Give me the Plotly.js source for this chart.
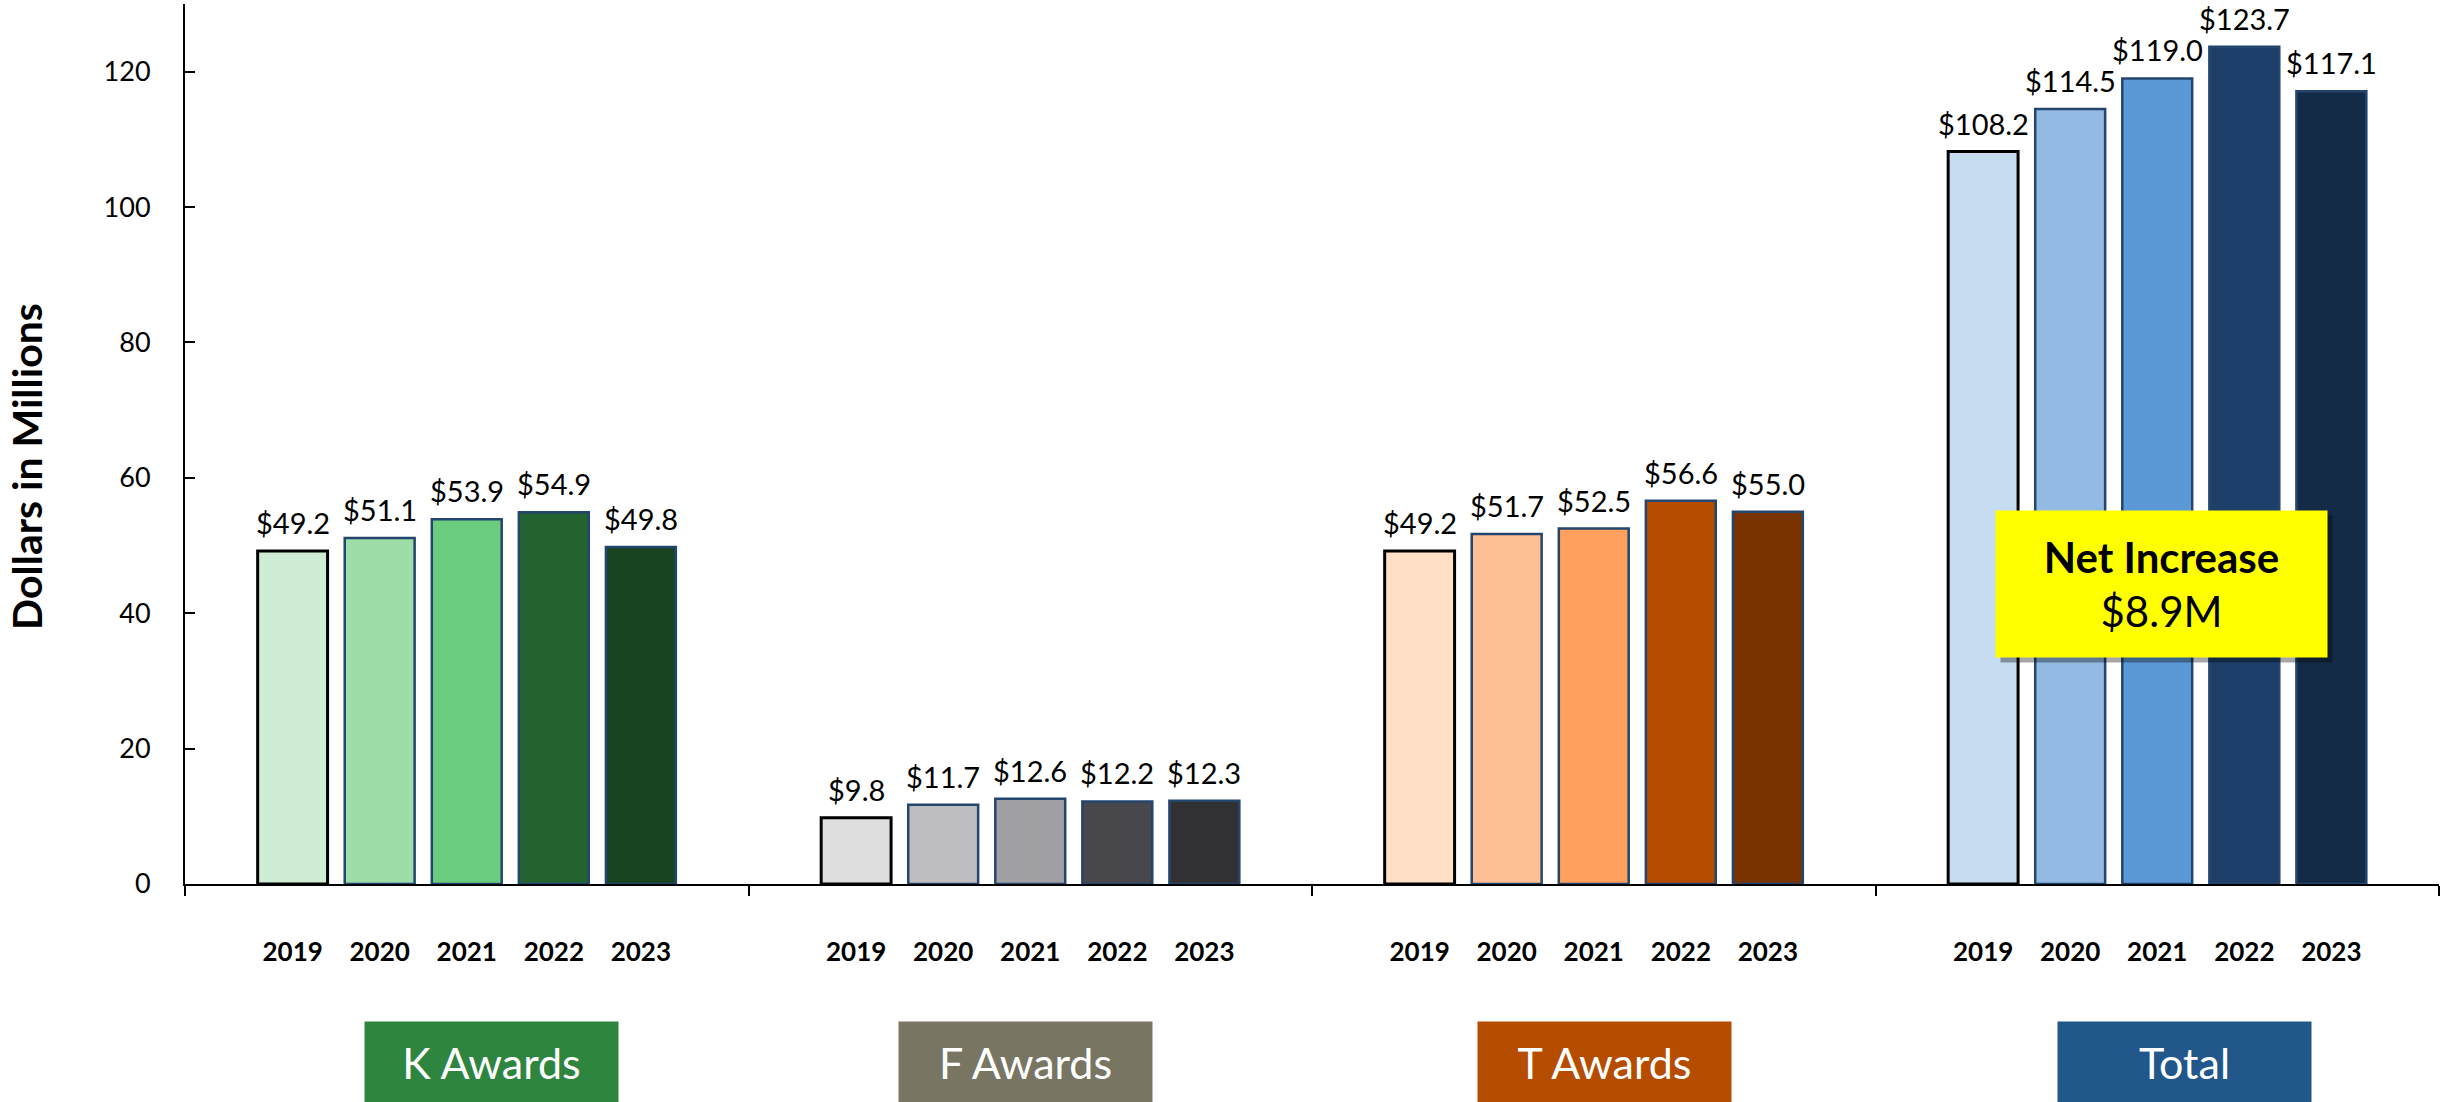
<!DOCTYPE html>
<html>
<head>
<meta charset="utf-8">
<script src="https://cdn.plot.ly/plotly-3.0.1.min.js"></script>
<style>
  html, body { margin: 0; padding: 0; background: #ffffff; }
  #chart { width: 2440px; height: 1102px; }
</style>
</head>
<body>
<div id="chart"></div>
<script>
// ---- data ----
const groups = ['K Awards', 'F Awards', 'T Awards', 'Total'];
const years = ['2019', '2020', '2021', '2022', '2023'];
const kAwards = [49.2, 51.1, 53.9, 54.9, 49.8];
const fAwards = [9.8, 11.7, 12.6, 12.2, 12.3];
const tAwards = [49.2, 51.7, 52.5, 56.6, 55.0];
const totalAwards = [108.2, 114.5, 119.0, 123.7, 117.1];
const yTickVals = [0, 20, 40, 60, 80, 100, 120];
const netIncreaseLabel = 'Net Increase';
const netIncreaseValue = '$8.9M';
const yTitle = 'Dollars in Millions';

// ---- styles ----
const palette = {
  'K Awards': ['#CFECD4', '#9EDDA8', '#6BCB7E', '#236330', '#184422'],
  'F Awards': ['#DEDEDF', '#BEBEC0', '#A09FA4', '#48474C', '#313133'],
  'T Awards': ['#FFE0C7', '#FFBF94', '#FFA05E', '#B54C00', '#783300'],
  'Total':    ['#C6DCF0', '#92BAE3', '#5B98D6', '#1D3F69', '#142B47']
};
const groupBoxColors = ['#2E8540', '#787663', '#B54C00', '#21578A'];
const groupBoxShift = [25, -5, 11, 27];
const FONT = 'Lato, "Open Sans", sans-serif';

const bargap = 0.2275;
const bargroupgap = 0.197;
const slot = (1 - bargap) / years.length;

const series = [kAwards, fAwards, tAwards, totalAwards];

const traces = years.map((yr, i) => {
  const yv = series.map(s => s[i]);
  return {
    type: 'bar',
    name: yr,
    x: groups,
    y: yv,
    marker: {
      color: groups.map(g => palette[g][i]),
      line: { color: i === 0 ? '#000000' : '#24456E', width: i === 0 ? 3 : 2.5 }
    },
    hoverinfo: 'skip',
    showlegend: false
  };
});

// bar centre positions on an overlaid linear axis (same range as the category axis)
const barPos = [];
const yearTickText = [];
groups.forEach((g, gi) => {
  years.forEach((yr, i) => {
    barPos.push(gi + (i - (years.length - 1) / 2) * slot);
    yearTickText.push('<b>' + yr + '</b>');
  });
});
// invisible trace to activate xaxis2
traces.push({
  type: 'scatter', x: [-0.5, 3.5], y: [0, 0], xaxis: 'x2', yaxis: 'y',
  mode: 'markers', marker: { opacity: 0 }, hoverinfo: 'skip', showlegend: false
});

const annotations = [];

// value labels above bars
groups.forEach((g, gi) => {
  years.forEach((yr, i) => {
    const v = series[gi][i];
    annotations.push({
      x: barPos[gi * years.length + i], xref: 'x2', y: v, yref: 'y',
      yshift: 10, yanchor: 'bottom', xanchor: 'center', borderpad: 0,
      text: '$' + v.toFixed(1), showarrow: false,
      font: { family: FONT, size: 29, color: '#000000' }
    });
  });
});

// category boxes
groups.forEach((g, gi) => {
  annotations.push({
    x: g, xref: 'x', y: -0.2028, yref: 'paper',
    xshift: groupBoxShift[gi],
    text: g, showarrow: false,
    font: { family: FONT, size: 43, color: '#ffffff' },
    bgcolor: groupBoxColors[gi],
    width: 251, height: 79,
    xanchor: 'center', yanchor: 'middle'
  });
});

// y axis title
annotations.push({
  x: 0, xref: 'paper', xshift: -158, y: 0.474, yref: 'paper',
  text: '<b>' + yTitle + '</b>', textangle: -90, showarrow: false,
  font: { family: FONT, size: 41, color: '#000000' },
  xanchor: 'center', yanchor: 'middle'
});

// Net increase call-out (shadow + box)
annotations.push({
  x: 'Total', xref: 'x', xshift: 9, y: 44.3, yref: 'y', yshift: -5,
  text: ' ', showarrow: false,
  bgcolor: 'rgba(0,0,0,0.35)', width: 329, height: 144,
  xanchor: 'center', yanchor: 'middle'
});
annotations.push({
  x: 'Total', xref: 'x', xshift: 4.5, y: 44.3, yref: 'y',
  text: '<b>' + netIncreaseLabel + '</b><br>' + netIncreaseValue,
  showarrow: false,
  font: { family: FONT, size: 42, color: '#000000' },
  bgcolor: '#FFFF00', width: 329, height: 144,
  xanchor: 'center', yanchor: 'middle'
});

const layout = {
  width: 2440, height: 1102,
  margin: { l: 185, r: 1, t: 4, b: 218 },
  paper_bgcolor: '#ffffff', plot_bgcolor: '#ffffff',
  barmode: 'group', bargap: bargap, bargroupgap: bargroupgap,
  font: { family: FONT, color: '#000000' },
  xaxis: {
    type: 'category', range: [-0.5, 3.5], fixedrange: true,
    showticklabels: false, tickson: 'boundaries',
    ticks: 'outside', ticklen: 10, tickwidth: 2, tickcolor: '#000000',
    showline: true, linecolor: '#000000', linewidth: 2,
    showgrid: false, zeroline: false
  },
  xaxis2: {
    overlaying: 'x', anchor: 'y', side: 'bottom',
    range: [-0.5, 3.5], fixedrange: true,
    tickmode: 'array', tickvals: barPos, ticktext: yearTickText,
    ticks: 'outside', ticklen: 45, tickcolor: 'rgba(0,0,0,0)',
    tickfont: { family: FONT, size: 26, color: '#000000' },
    showline: false, showgrid: false, zeroline: false
  },
  yaxis: {
    range: [0, 130], fixedrange: true,
    tickmode: 'array', tickvals: yTickVals,
    ticks: 'inside', ticklen: 10, tickwidth: 2, tickcolor: '#000000',
    ticklabelstandoff: 27,
    tickfont: { family: FONT, size: 27, color: '#000000' },
    showline: true, linecolor: '#000000', linewidth: 2,
    showgrid: false, zeroline: false
  },
  annotations: annotations
};

Plotly.newPlot('chart', traces, layout, { staticPlot: true, displayModeBar: false });
</script>
</body>
</html>
